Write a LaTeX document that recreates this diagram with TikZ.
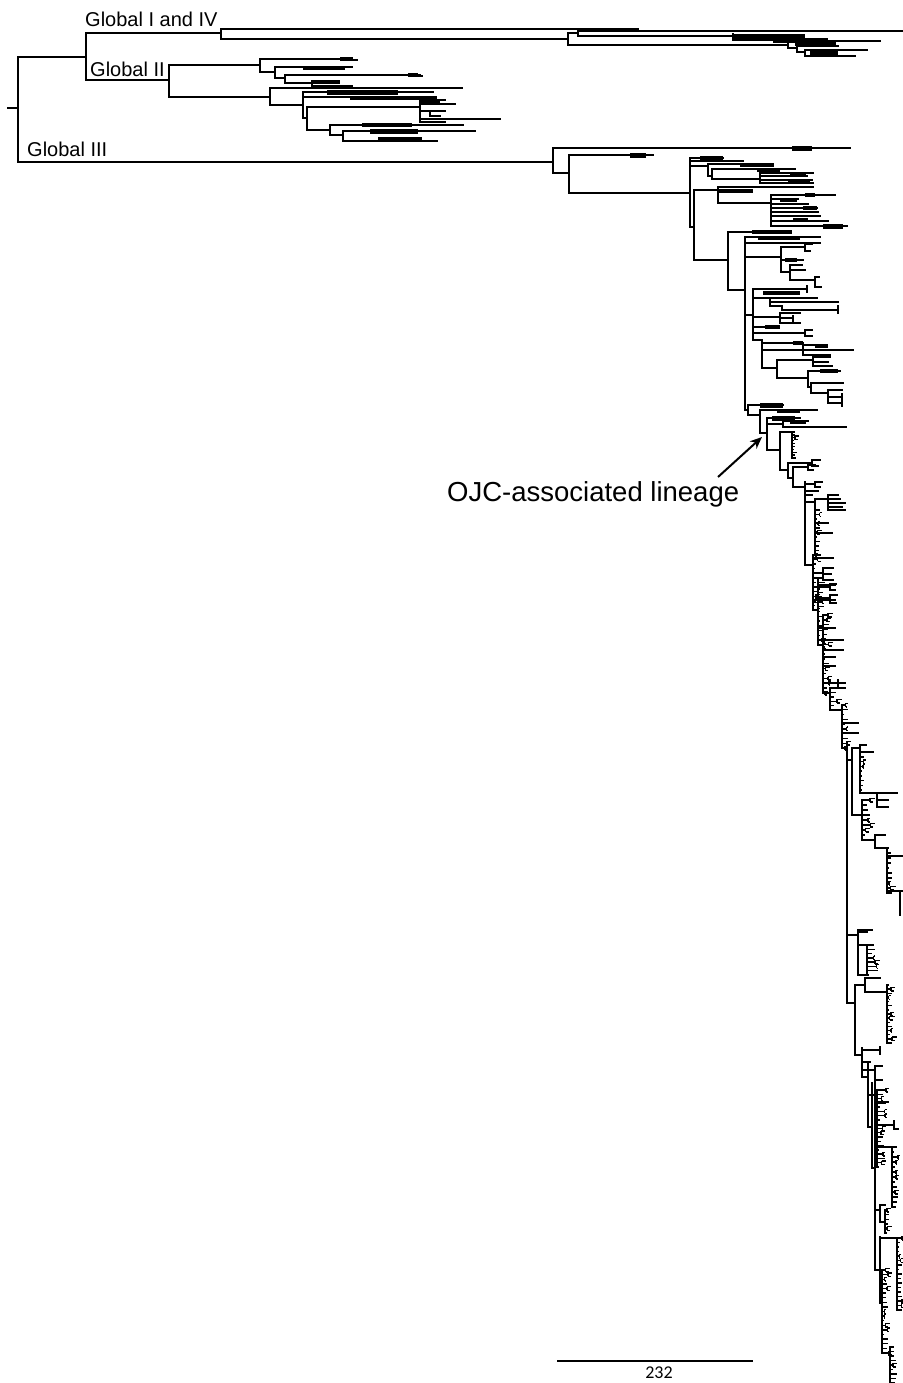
\documentclass[tikz,border=0pt]{standalone}
\usepackage{fontspec}
\setmainfont{Liberation Sans}
\newfontfamily\numfnt{Carlito}
\usetikzlibrary{arrows.meta}
\newcommand\tH[3]{\draw[br] (#2,#1) -- (#3,#1);}
\newcommand\tV[3]{\draw[br] (#1,#2) -- (#1,#3);}
\newcommand\tB[3]{\fill (#2,#1-2.2) rectangle (#3,#1+2.2);}
\newcommand\tC[5]{%
  \draw[br] (#1,#2) -- (#1,#3);
  \foreach \ci in {0,...,#4}{%
    \pgfmathsetmacro\cy{#2+(#3-#2)*\ci/#4}%
    \pgfmathsetmacro\cl{1.5+rnd*#5}%
    \draw[lf] (#1,\cy) -- ++(\cl,0);%
    \pgfmathtruncatemacro\cf{rnd>0.7}%
    \ifnum\cf=1
      \pgfmathsetmacro\cm{1.5+rnd*4}%
      \draw[lf] (#1+\cl,\cy-1.8) -- (#1+\cl,\cy+1.8);
      \draw[lf] (#1+\cl,\cy-1.8) -- ++(\cm,0);
      \draw[lf] (#1+\cl,\cy+1.8) -- ++(\cm*0.7,0);
    \fi
  }}
\begin{document}
\begin{tikzpicture}[x=1pt,y=-1pt,
  br/.style={line width=2.0pt,line cap=rect},
  lf/.style={line width=1.4pt},
  lbl/.style={inner sep=0pt,anchor=base west,font=\fontsize{20}{22}\selectfont}]
\useasboundingbox (0,0) rectangle (902,1383);
\pgfmathsetseed{4242}
% root
\tH{108}{8}{18}
\tV{18}{57}{162}
\tH{57}{18}{86}
\tV{86}{33}{80}
% Global I and IV
\tH{33}{86}{221}
\tV{221}{29}{39}
\tH{29}{221}{638}
\tH{39}{221}{568}
\tV{568}{33}{45}
\tH{33}{568}{578}
\tV{578}{31.5}{36}
\tH{31.5}{578}{902}
\tH{36}{578}{733}
\tV{733}{34}{40}
\tB{36.5}{733}{805}
\tH{40}{733}{773}
\tB{40.5}{773}{828}
\tH{45}{568}{788}
\tV{788}{41}{48}
\tH{41}{788}{880}
\tB{44}{795}{836}
\tH{48}{788}{797}
\tV{797}{46}{52}
\tH{46}{797}{838}
\tH{52}{797}{805}
\tV{805}{50}{56}
\tH{50}{805}{867}
\tH{56}{805}{855}
\tB{53}{810}{838}
% Global II
\tH{80}{86}{169}
\tV{169}{65}{97}
\tH{65}{169}{260}
\tV{260}{59}{72}
\tH{59}{260}{342}
\tB{59}{340}{353}
\draw[lf] (350,60)--(358,60);
\tH{72}{260}{275}
\tV{275}{67}{78}
\tH{67}{275}{352}
\tB{68}{303}{345}
\tH{78}{275}{285}
\tV{285}{75}{83}
\tH{75}{285}{420}
\tB{75}{408}{418}
\draw[lf] (415,76)--(423,76);
\tH{83}{285}{312}
\tV{312}{81}{86}
\tB{82}{312}{340}
\tH{86}{312}{352}
\tH{97}{169}{270}
\tV{270}{88}{105}
\tH{88}{270}{462}
\tH{105}{270}{303}
\tV{303}{92}{118}
\tH{92}{303}{433}
\tB{92.5}{327}{398}
\tH{97}{303}{360}
\tB{98}{350}{437}
\tH{118}{303}{307}
\tV{307}{107}{130}
\tH{107}{307}{420}
\tV{420}{100}{122}
\tH{100}{420}{445}
\tH{104}{420}{455}
\tB{103}{420}{440}
\tH{111}{420}{445}
\tV{430}{111}{116}
\tH{116}{430}{440}
\tH{119}{420}{500}
\tH{122}{420}{445}
\tH{130}{307}{330}
\tV{330}{125}{135}
\tH{125}{330}{463}
\tH{135}{330}{343}
\tV{343}{131}{141}
\tH{131}{343}{475}
\tH{141}{343}{437}
\tB{125}{362}{412}
\tB{131.5}{370}{418}
\tB{139}{378}{422}
% Global III
\tH{162}{18}{553}
\tV{553}{148}{173}
\tH{148}{553}{850}
\tB{148.5}{792}{812}
\tH{173}{553}{569}
\tV{569}{155}{193}
\tH{155}{569}{653}
\tB{155.5}{630}{646}
\tH{193}{569}{690}
\tV{690}{158}{227}
% clade A
\tH{158}{690}{723}
\tB{158.5}{700}{723}
\tH{161}{690}{743}
\tH{166}{690}{708}
\tV{708}{164}{176}
\tH{164}{708}{757}
\tB{165}{740}{774}
\tH{176}{708}{712}
\tV{712}{169}{179}
\tH{169}{712}{795}
\tB{170}{757}{780}
\tH{179}{712}{760}
\tV{760}{173}{183}
\tH{173}{760}{813}
\tH{176}{760}{807}
\tH{180}{760}{812}
\tH{183}{760}{813}
\tB{175}{790}{806}
\tB{181.5}{788}{810}
% clade B
\tH{227}{690}{694}
\tV{694}{190}{260}
\tH{190}{694}{718}
\tV{718}{187}{203}
\tH{187}{718}{813}
\tB{191}{718}{753}
\tH{203}{718}{771}
\tV{771}{195}{226}
\tH{195}{771}{835}
\tB{195}{805}{815}
\tH{199}{771}{798}
\tB{200}{780}{797}
\tH{204}{771}{808}
\tH{208}{771}{817}
\tB{208}{803}{817}
\tH{212}{771}{818}
\tH{216}{771}{820}
\tH{221}{771}{828}
\tB{220}{793}{808}
\tH{226}{771}{847}
\tB{226.5}{823}{843}
\tH{260}{694}{728}
\tV{728}{232}{290}
\tH{232}{728}{790}
\tB{232}{752}{792}
\tH{290}{728}{745}
\tV{745}{237}{410}
\tH{237}{745}{820}
\tB{238}{758}{800}
\tH{243}{745}{820}
\tH{257}{745}{781}
\tV{781}{247}{272}
\tH{247}{781}{805}
\tV{805}{244}{251}
\tH{244}{805}{812}
\tH{251}{805}{810}
\tH{260}{781}{803}
\tB{260}{785}{797}
\tH{272}{781}{790}
\tV{790}{265}{280}
\tH{265}{790}{802}
\tH{270}{790}{805}
\tH{280}{790}{815}
\tV{815}{277}{287}
\tH{277}{815}{819}
\tH{287}{815}{821}
\tH{315}{745}{753}
\tV{753}{289}{340}
\tH{289}{753}{807}
\tV{807}{286}{292}
\tB{293}{763}{800}
\tH{298}{753}{770}
\tV{770}{298}{306}
\tH{298}{770}{817}
\tH{302}{770}{838}
\tH{306}{770}{782}
\tV{782}{306}{310}
\tH{310}{782}{838}
\tV{838}{306}{313}
\tH{317}{753}{780}
\tV{780}{313}{323}
\tH{313}{780}{800}
\tH{318}{780}{793}
\tV{793}{316}{321}
\tH{323}{780}{800}
\tH{327}{753}{765}
\tB{327}{765}{780}
\tH{333}{753}{805}
\tV{805}{330}{336}
\tH{330}{805}{812}
\tH{336}{805}{812}
\tH{340}{753}{762}
\tV{762}{340}{368}
\tH{343}{762}{803}
\tB{343}{793}{803}
\tH{350}{762}{803}
\tV{803}{345}{355}
\tH{345}{803}{827}
\tH{350}{803}{853}
\tH{355}{803}{830}
\tB{346}{815}{828}
\tH{368}{762}{777}
\tV{777}{360}{378}
\tH{360}{777}{813}
\tV{813}{357}{366}
\tH{357}{813}{830}
\tH{362}{813}{828}
\tH{366}{813}{832}
\tH{378}{777}{808}
\tV{808}{371}{387}
\tH{371}{808}{840}
\tB{371}{820}{838}
\tH{387}{808}{811}
\tV{811}{383}{393}
\tH{383}{811}{843}
\tH{393}{811}{828}
\tV{828}{390}{403}
\tH{390}{828}{842}
\tH{397}{828}{842}
\tH{403}{828}{842}
\tV{842}{394}{406}
% OJC-associated lineage
\tH{410}{745}{748}
\tV{748}{405}{415}
\tH{405}{748}{783}
\tB{405.5}{760}{783}
\tH{415}{748}{760}
\tV{760}{410}{433}
\tH{410}{760}{817}
\tB{411}{777}{800}
\tH{433}{760}{767}
\tV{767}{418}{450}
\tH{418}{767}{800}
\tB{418.5}{772}{795}
\tH{424}{767}{783}
\tV{783}{421}{427}
\tH{421}{783}{808}
\tH{427}{783}{846}
\tB{422}{790}{806}
\tH{450}{767}{780}
\tV{780}{432}{470}
\tH{432}{780}{792}
\tC{792}{432}{458}{9}{4}
\tH{470}{780}{788}
\tV{788}{463}{478}
\tH{463}{788}{812}
\tV{812}{460}{466}
\tH{460}{812}{820}
\tH{466}{812}{818}
\tH{478}{788}{793}
\tV{793}{467}{487}
\tH{467}{793}{808}
\tV{808}{465}{470}
\tH{465}{808}{815}
\tH{470}{808}{813}
\tH{487}{793}{805}
\tV{805}{482}{565}
\tH{484}{805}{815}
\tV{815}{482}{487}
\tH{482}{815}{822}
\tH{487}{815}{820}
\tH{491}{805}{818}
\tH{495}{805}{812}
\tH{502}{805}{815}
\tV{815}{499}{510}
\tH{499}{815}{828}
\tV{828}{495}{510}
\tH{495}{828}{838}
\tH{499}{828}{840}
\tH{503}{828}{845}
\tH{507}{828}{842}
\tH{510}{828}{845}
\tC{815}{510}{555}{10}{5}
\tH{523}{815}{828}
\tH{533}{815}{832}
\tH{565}{805}{813}
\tC{813}{555}{610}{12}{5}
\tH{558}{813}{833}
\tH{573}{813}{823}
\tV{823}{568}{580}
\tH{568}{823}{833}
\tH{574}{823}{831}
\tH{580}{823}{833}
\tH{587}{813}{830}
\tV{830}{584}{590}
\tH{584}{830}{836}
\tH{590}{830}{835}
\tH{600}{813}{835}
\tH{610}{813}{818}
\tC{818}{578}{645}{14}{5}
\tH{585}{818}{835}
\tH{598}{818}{830}
\tV{830}{595}{603}
\tH{595}{830}{837}
\tH{603}{830}{836}
\tH{628}{818}{835}
\tH{640}{818}{843}
\tH{645}{818}{823}
\tC{823}{615}{693}{16}{5}
\tH{650}{823}{843}
\tH{657}{823}{835}
\tH{666}{823}{835}
\tH{683}{823}{845}
\tV{838}{680}{688}
\tH{688}{838}{845}
\tH{693}{823}{830}
\tC{830}{688}{710}{5}{6}
\tH{710}{830}{842}
\tC{842}{705}{748}{9}{5}
\tH{723}{842}{858}
\tH{733}{842}{858}
\tH{748}{842}{847}
\tV{847}{743}{1003}
% clade C1
\tH{760}{847}{852}
\tV{852}{748}{815}
\tH{748}{852}{860}
\tV{860}{745}{793}
\tH{745}{860}{866}
\tH{752}{860}{873}
\tC{860}{757}{790}{7}{5}
\tH{793}{860}{877}
\tV{877}{793}{807}
\tH{793}{877}{897}
\tH{800}{877}{888}
\tH{807}{877}{888}
\tH{815}{852}{862}
\tC{862}{800}{840}{8}{7}
\tH{840}{862}{875}
\tV{875}{835}{848}
\tH{835}{875}{885}
\tH{848}{875}{887}
\tC{887}{848}{893}{9}{5}
\tH{856}{887}{902}
\tH{891}{887}{902}
\tV{900}{891}{915}
% clade C2
\tH{935}{847}{858}
\tV{858}{930}{975}
\tH{930}{858}{872}
\tB{931}{858}{868}
\tH{945}{858}{867}
\tC{867}{945}{975}{7}{10}
\tH{975}{858}{867}
% lower backbone
\tH{1003}{847}{855}
\tV{855}{985}{1055}
\tH{985}{855}{865}
\tV{865}{978}{992}
\tH{978}{865}{880}
\tH{992}{865}{887}
\tC{887}{985}{1043}{14}{4}
\tH{1055}{855}{862}
\tV{862}{1048}{1077}
\tH{1050}{862}{880}
\tV{880}{1047}{1054}
\tH{1062}{862}{870}
\tH{1070}{862}{875}
\tV{875}{1066}{1080}
\tH{1066}{875}{882}
\tH{1080}{875}{882}
\tH{1077}{862}{868}
\tV{868}{1062}{1127}
\tH{1095}{868}{877}
\tC{877}{1090}{1167}{18}{8}
\tH{1102}{877}{888}
\tH{1125}{877}{894}
\tV{894}{1121}{1129}
\tH{1129}{894}{898}
\tH{1127}{868}{872}
\tV{872}{1083}{1168}
\tH{1147}{877}{892}
\tC{892}{1147}{1207}{12}{5}
\tH{1168}{872}{875}
\tV{875}{1080}{1270}
\tH{1210}{875}{880}
\tV{880}{1205}{1222}
\tH{1205}{880}{885}
\tC{885}{1210}{1233}{5}{3}
\tH{1222}{880}{885}
\tH{1270}{875}{880}
\tV{880}{1237}{1303}
\tH{1238}{880}{897}
\tC{897}{1238}{1310}{16}{4}
\tH{1303}{880}{882}
\tC{882}{1270}{1353}{18}{5}
\tH{1353}{882}{890}
\tC{890}{1347}{1383}{8}{6}
% labels
\node[lbl] (g14) at (85,27) {Global I and IV};
\node[lbl] (g2) at (90,77) {Global II};
\node[lbl] (g3) at (27,157) {Global III};
\node[inner sep=0pt,anchor=base west,font=\fontsize{27.5}{30}\selectfont] (ojc) at (447,501) {OJC-associated lineage};
\coordinate (arT) at (718,477);
\coordinate (arH) at (762,437);
\draw[line width=2pt,-{Stealth[length=12pt,width=10pt]}] (arT) -- (arH);
% scale bar
\coordinate (sbL) at (558,1361);
\coordinate (sbR) at (752,1361);
\draw[br] (sbL) -- (sbR);
\node[inner sep=0pt,anchor=base,font=\numfnt\fontsize{18}{20}\selectfont] (sbt) at (659,1378) {232};
\end{tikzpicture}
\end{document}
